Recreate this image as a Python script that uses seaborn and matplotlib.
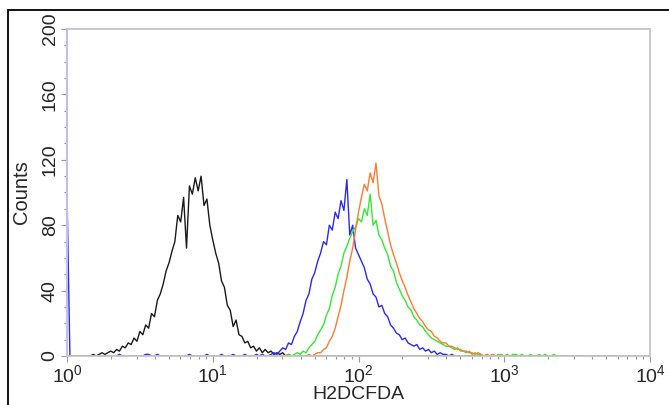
import numpy as np
import pandas as pd
import matplotlib
matplotlib.use('Agg')
import matplotlib.pyplot as plt
from matplotlib.patches import Rectangle
from matplotlib.ticker import MultipleLocator, LogLocator
import seaborn as sns

# channel grid (log10 of intensity), 0.02 decade per channel
channel_step = 0.02
n_channels = 201

# counts per channel, each list begins at its *_start channel (log10)
black_start = 0.16
black_counts = [0, 1, 0, 1, 2, 1, 2, 3, 2, 4, 3, 6, 5, 8, 7, 11, 9, 15, 13, 19,
                17, 26, 24, 34, 38, 44, 52, 57, 64, 70, 86, 82, 97, 66, 104, 99, 109, 101, 110, 92,
                96, 80, 71, 63, 57, 46, 42, 31, 28, 18, 22, 13, 12, 8, 9, 5, 6, 3, 5, 2,
                4, 2, 3, 1, 2, 1, 2, 0, 1, 0]

blue_low_start = 0.0
blue_low_counts = [100, 0, 0, 0, 0, 0, 0, 0, 0, 0, 0, 0, 0, 0, 0, 0, 0, 0, 1, 0,
                   0, 0, 0, 0, 0, 0, 0, 1, 1, 0, 0, 1, 0, 0, 0, 0, 0, 0, 0, 0,
                   0, 0, 1, 0, 0, 0, 0, 0, 1, 0, 0, 0, 0, 1, 0, 0, 0, 1, 0, 0,
                   0, 1, 0, 0, 0, 1, 0, 1, 0, 0]
blue_start = 1.40
blue_counts = [1, 2, 1, 3, 5, 4, 8, 7, 12, 15, 21, 26, 34, 38, 47, 51, 58, 63, 70, 68,
               80, 77, 88, 84, 95, 89, 108, 74, 80, 66, 62, 58, 54, 47, 44, 38, 36, 30, 31, 26,
               24, 19, 17, 14, 13, 10, 11, 8, 7, 6, 7, 4, 5, 3, 4, 2, 3, 1, 2, 1,
               1, 0, 1, 0]

green_start = 1.50
green_counts = [0, 1, 0, 1, 2, 1, 3, 2, 5, 7, 9, 13, 16, 19, 25, 29, 37, 42, 50, 55,
                63, 67, 72, 76, 79, 84, 82, 90, 86, 99, 80, 83, 74, 71, 66, 62, 55, 52, 45, 41,
                37, 34, 30, 28, 24, 22, 19, 18, 15, 13, 11, 10, 9, 8, 7, 6, 6, 5, 4, 5,
                3, 3, 2, 3, 1, 2, 1, 1, 0, 1, 0, 1, 0, 1, 0, 0, 1, 0, 1, 1,
                0, 1, 0, 0, 1, 0, 0, 1, 0, 1, 0, 0, 1, 0]

orange_start = 1.64
orange_counts = [0, 1, 0, 1, 2, 2, 4, 5, 9, 12, 17, 24, 31, 40, 48, 58, 66, 77, 88, 97,
                 105, 101, 112, 106, 118, 98, 93, 84, 76, 68, 62, 57, 51, 46, 42, 37, 33, 29, 26, 23,
                 21, 18, 16, 15, 12, 11, 9, 8, 8, 6, 6, 5, 4, 4, 3, 3, 2, 2, 1, 2,
                 1, 0, 1, 0, 1, 0, 0, 1, 0]

samples = ['control', 'treated 1', 'treated 2', 'treated 3']
colors = ['#1a1a1a', '#2a2aee', '#33e833', '#ff7a30']


def full_series(parts):
    arr = np.zeros(n_channels)
    for start, counts in parts:
        i0 = int(round(start / channel_step))
        arr[i0:i0 + len(counts)] += counts
    return arr


log_channel = np.arange(n_channels) * channel_step
series = [
    full_series([(black_start, black_counts)]),
    full_series([(blue_low_start, blue_low_counts), (blue_start, blue_counts)]),
    full_series([(green_start, green_counts)]),
    full_series([(orange_start, orange_counts)]),
]

df = pd.concat([
    pd.DataFrame({'H2DCFDA': 10 ** log_channel, 'Counts': s, 'sample': name})
    for name, s in zip(samples, series)
], ignore_index=True)

sns.set_style('white')
plt.rcParams['font.family'] = ['Liberation Sans', 'DejaVu Sans']

fig = plt.figure(figsize=(6.69, 4.05), dpi=100)
ax = fig.add_axes([67 / 669, 1 - 356 / 405, 583 / 669, 327 / 405])

sns.lineplot(data=df, x='H2DCFDA', y='Counts', hue='sample', hue_order=samples,
             palette=colors, estimator=None, sort=False, legend=False,
             linewidth=1.0, ax=ax)

ax.set_xscale('log')
ax.set_xlim(1, 1e4)
ax.set_ylim(0, 200)
ax.yaxis.set_major_locator(MultipleLocator(40))
ax.yaxis.set_minor_locator(MultipleLocator(10))
ax.xaxis.set_major_locator(LogLocator(base=10, numticks=10))
ax.xaxis.set_minor_locator(LogLocator(base=10, subs=np.arange(2, 10), numticks=20))

ax.tick_params(which='both', direction='out', color='#999999', width=0.8)
ax.tick_params(which='major', length=4, labelsize=14, pad=2)
ax.tick_params(which='minor', length=2.5)
ax.tick_params(axis='x', which='both', bottom=True)
ax.tick_params(axis='y', which='both', left=True)
plt.setp(ax.get_yticklabels(), rotation=90, va='center')

for side in ['top', 'right', 'bottom']:
    ax.spines[side].set_color('#c4c4c4')
    ax.spines[side].set_linewidth(1.3)
ax.spines['left'].set_color('#c0c0f0')
ax.spines['left'].set_linewidth(1.5)

ax.set_xlabel('H2DCFDA', fontsize=14, labelpad=0)
ax.set_ylabel('Counts', fontsize=14.5, labelpad=8)

# outer frame of the original export
fig.add_artist(Rectangle((8 / 669, -0.2), 1.5, 1.2 - 10 / 405, transform=fig.transFigure,
                         fill=False, edgecolor='black', linewidth=1.3))

fig.savefig('out.png', dpi=100)
